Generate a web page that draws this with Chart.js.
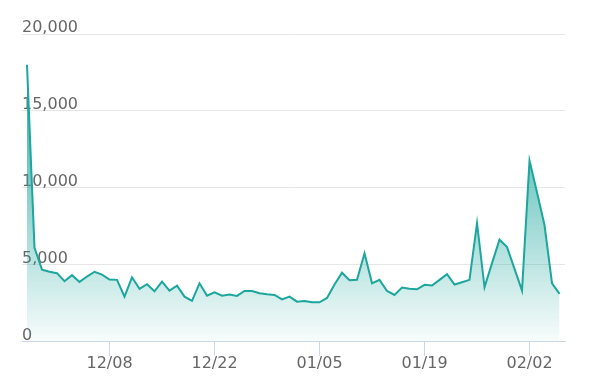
<!DOCTYPE html>
<html>
<head>
<meta charset="utf-8">
<script src="https://cdn.jsdelivr.net/npm/chart.js@4"></script>
<style>
  html, body { margin: 0; padding: 0; background: #fff; }
  #wrap { width: 589px; height: 387px; }
</style>
</head>
<body>
<div id="wrap"><canvas id="dailyChart" width="589" height="387"></canvas></div>
<script>
// Dates, one point per day from 11/27 to 02/06
const dates = [
  '11/27', '11/28', '11/29', '11/30', '12/01', '12/02', '12/03', '12/04', '12/05', '12/06',
  '12/07', '12/08', '12/09', '12/10', '12/11', '12/12', '12/13', '12/14', '12/15', '12/16',
  '12/17', '12/18', '12/19', '12/20', '12/21', '12/22', '12/23', '12/24', '12/25', '12/26',
  '12/27', '12/28', '12/29', '12/30', '12/31', '01/01', '01/02', '01/03', '01/04', '01/05',
  '01/06', '01/07', '01/08', '01/09', '01/10', '01/11', '01/12', '01/13', '01/14', '01/15',
  '01/16', '01/17', '01/18', '01/19', '01/20', '01/21', '01/22', '01/23', '01/24', '01/25',
  '01/26', '01/27', '01/28', '01/29', '01/30', '01/31', '02/01', '02/02', '02/03', '02/04',
  '02/05', '02/06'
];

const dailyValues = [
  18000, 6100, 4680, 4550, 4460, 3940, 4330, 3890, 4240, 4550,
  4370, 4045, 4025, 2940, 4190, 3440, 3740, 3280, 3915, 3330,
  3650, 2935, 2655, 3800, 3000, 3220, 3000, 3065, 2980, 3305,
  3305, 3150, 3090, 3045, 2760, 2935, 2610, 2655, 2565, 2565,
  2850, 3720, 4490, 4000, 4025, 5750, 3800, 4025, 3305, 3045,
  3525, 3440, 3415, 3700, 3655, 4025, 4390, 3720, 3870, 4025,
  7720, 3545, 5110, 6635, 6155, 4740, 3330, 11765, 9700, 7570,
  3800, 3110
];

// Labelled days on the x axis
const tickDates = ['12/08', '12/22', '01/05', '01/19', '02/02'];
const yTicks = [0, 5000, 10000, 15000, 20000];

const LINE_COLOR = '#1ca69d';
const TEXT_COLOR = '#666666';
const FONT = { family: 'DejaVu Sans', size: 16 };

const points = dailyValues.map((v, i) => ({ x: i, y: v }));

function areaFill(context) {
  const chart = context.chart;
  const area = chart.chartArea;
  if (!area) return 'rgba(28,166,157,0.3)';
  const top = chart.scales.y.getPixelForValue(Math.max(...dailyValues));
  const g = chart.ctx.createLinearGradient(0, top, 0, area.bottom);
  g.addColorStop(0, 'rgba(28,166,157,0.95)');
  g.addColorStop(1, 'rgba(28,166,157,0.03)');
  return g;
}

new Chart(document.getElementById('dailyChart'), {
  type: 'line',
  data: {
    datasets: [{
      data: points,
      borderColor: LINE_COLOR,
      backgroundColor: areaFill,
      fill: 'origin',
      borderWidth: 2,
      tension: 0,
      pointRadius: 0
    }]
  },
  options: {
    responsive: false,
    animation: false,
    layout: { padding: { left: 22, right: 24, top: 34, bottom: 16 } },
    plugins: {
      legend: { display: false },
      tooltip: { enabled: false }
    },
    scales: {
      x: {
        type: 'linear',
        min: -0.667,
        max: 71.73,
        afterBuildTicks: (scale) => {
          scale.ticks = tickDates.map(d => ({ value: dates.indexOf(d) }));
        },
        ticks: {
          autoSkip: false,
          maxRotation: 0,
          color: TEXT_COLOR,
          font: FONT,
          padding: -2,
          callback: (v) => dates[v]
        },
        grid: {
          drawOnChartArea: false,
          drawTicks: true,
          tickLength: 14,
          color: '#ccd6eb'
        },
        border: { display: true, color: '#ccd6eb', width: 1 }
      },
      y: {
        min: 0,
        max: 20000,
        afterBuildTicks: (scale) => {
          scale.ticks = yTicks.map(v => ({ value: v }));
        },
        ticks: {
          mirror: true,
          padding: 0,
          labelOffset: -6,
          color: TEXT_COLOR,
          font: FONT,
          callback: (v) => v.toLocaleString('en-US')
        },
        grid: {
          drawTicks: false,
          color: (ctx) => ctx.tick && ctx.tick.value === 0 ? 'rgba(0,0,0,0)' : '#e6e6e6'
        },
        border: { display: false }
      }
    }
  }
});
</script>
</body>
</html>
